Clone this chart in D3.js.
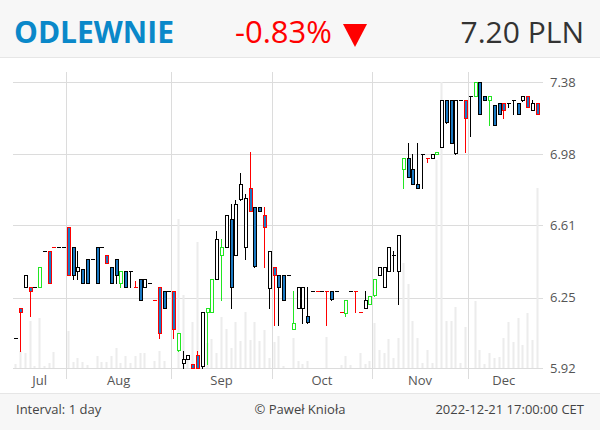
<!DOCTYPE html>
<html>
<head>
<meta charset="utf-8">
<script src="https://cdn.jsdelivr.net/npm/d3@7.9.0/dist/d3.min.js"></script>
<style>
  html, body { margin: 0; padding: 0; background: #fff; }
  svg { display: block; font-family: "Open Sans", sans-serif; }
</style>
</head>
<body>
<svg id="chart" width="600" height="430"></svg>
<script>
// ---- data ----
const months = ["Jul", "Aug", "Sep", "Oct", "Nov", "Dec"];
const monthStart = [0, 11, 33, 54, 75, 95];   // index of first session of each month
const yTicks = [5.92, 6.25, 6.61, 6.98, 7.38];

const open = [6.06,6.20,6.30,6.30,6.30,6.30,6.48,6.48,6.50,6.50,6.50,6.60,6.50,6.38,6.39,6.44,6.44,6.50,6.50,6.46,
  6.40,6.44,6.32,6.38,6.38,6.30,6.34,6.30,6.32,6.24,6.30,6.28,6.28,6.28,6.00,5.94,5.96,5.94,5.98,5.93,
  6.18,6.18,6.34,6.46,6.50,6.64,6.46,6.74,6.50,6.80,6.70,6.70,6.66,6.30,6.40,6.36,6.36,6.36,6.10,6.20,
  6.20,6.16,6.28,6.28,6.28,6.28,6.28,6.28,6.18,6.18,6.28,6.28,6.18,6.20,6.22,6.26,6.36,6.30,6.38,6.46,
  6.38,6.90,6.96,6.90,6.82,6.98,6.96,6.96,6.98,7.02,7.28,7.28,6.99,7.28,7.28,7.30,7.30,7.38,7.30,7.28,
  7.25,7.26,7.26,7.26,7.28,7.26,7.28,7.30,7.22,7.26];
const high = [6.06,6.20,6.36,6.30,6.30,6.40,6.48,6.48,6.50,6.50,6.50,6.60,6.50,6.48,6.39,6.44,6.44,6.50,6.50,6.46,
  6.40,6.44,6.38,6.38,6.38,6.33,6.34,6.34,6.32,6.24,6.30,6.28,6.28,6.28,6.08,6.00,5.98,5.94,6.00,6.18,
  6.20,6.34,6.58,6.54,6.66,6.72,6.74,6.88,6.77,6.99,6.70,6.70,6.70,6.48,6.40,6.36,6.36,6.36,6.28,6.30,
  6.30,6.30,6.28,6.28,6.28,6.28,6.28,6.28,6.18,6.24,6.28,6.28,6.18,6.28,6.26,6.34,6.40,6.40,6.50,6.48,
  6.56,6.96,7.04,6.98,7.04,6.98,6.96,6.98,6.99,7.28,7.28,7.28,7.28,7.28,7.28,7.30,7.38,7.38,7.30,7.30,
  7.25,7.26,7.26,7.26,7.28,7.26,7.30,7.30,7.28,7.26];
const low = [6.06,6.00,6.30,6.16,6.30,6.30,6.48,6.32,6.50,6.50,6.50,6.36,6.34,6.34,6.32,6.32,6.44,6.32,6.50,6.42,
  6.32,6.32,6.30,6.30,6.30,6.30,6.24,6.30,6.32,6.24,6.06,6.20,6.28,6.06,6.00,5.92,5.96,5.92,5.92,5.92,
  5.94,6.18,6.34,6.24,6.50,6.20,6.46,6.74,6.44,6.68,6.40,6.68,6.40,6.20,6.12,6.12,6.24,6.36,6.10,6.20,
  6.13,6.13,6.28,6.28,6.28,6.12,6.24,6.28,6.18,6.16,6.28,6.18,6.18,6.20,6.22,6.26,6.36,6.30,6.38,6.38,
  6.22,6.80,6.86,6.82,6.80,6.80,6.94,6.96,6.98,7.02,7.15,7.04,6.98,7.28,6.99,7.08,7.30,7.20,7.28,7.14,
  7.14,7.20,7.18,7.24,7.20,7.20,7.27,7.24,7.22,7.20];
const close = [6.06,6.18,6.36,6.28,6.30,6.40,6.48,6.32,6.50,6.50,6.50,6.36,6.36,6.40,6.32,6.32,6.44,6.32,6.50,6.42,
  6.32,6.36,6.38,6.30,6.38,6.30,6.24,6.34,6.32,6.24,6.08,6.20,6.28,6.10,6.08,5.96,5.98,5.92,5.92,6.18,
  6.20,6.34,6.54,6.50,6.66,6.30,6.72,6.82,6.75,6.68,6.40,6.68,6.60,6.48,6.36,6.30,6.24,6.36,6.13,6.30,
  6.30,6.13,6.28,6.28,6.28,6.28,6.24,6.28,6.18,6.24,6.28,6.28,6.18,6.24,6.26,6.34,6.40,6.40,6.50,6.46,
  6.56,6.96,6.86,6.82,6.80,6.98,6.96,6.98,6.99,7.28,7.16,7.04,7.28,7.28,7.18,7.30,7.38,7.20,7.28,7.30,
  7.14,7.20,7.22,7.26,7.28,7.20,7.30,7.24,7.26,7.20];
// outline / wick colour of each session: k = black, r = red, g = green
const tone = ("krkrkgkrrkkrkkkkkkkr" + "kkgkkrkkkrrkkrgkkrrk" + "ggkgkkkkkrkkrkrkkkgk" +
  "kkkrkrkkrgkrrkggkkkk" + "kgkkkkrkgkkkkkrkgkkg" + "kkrkkkkrkr").split("");
const volume = [4,17,15,47,2,50,2,5,16,0,0,37,6,10,6,3,0,12,6,6,
  12,20,5,12,5,12,15,15,0,7,17,7,0,0,149,73,10,46,126,20,
  25,29,15,51,39,20,46,27,56,28,46,27,38,10,26,32,2,0,30,7,
  4,7,0,0,0,31,0,0,3,12,3,0,15,4,7,45,18,15,29,10,
  30,105,84,47,30,5,18,5,208,286,47,47,61,5,41,0,67,18,4,15,
  10,11,30,46,26,50,23,55,28,180];

const candles = open.map((o, i) => ({
  i, open: o, high: high[i], low: low[i], close: close[i], tone: tone[i], volume: volume[i]
}));

// ---- layout ----
const W = 600, H = 430;
const plot = { left: 13, right: 543, top: 72, bottom: 368 };
const toneColor = { k: "#000", r: "#ff0000", g: "#22e622" };
const bodyFill = "#1a78c2";

const svg = d3.select("#chart");

// header & footer bands
svg.append("rect").attr("x", 0).attr("y", 0).attr("width", W).attr("height", 58).attr("fill", "#f7f7f7");
svg.append("line").attr("x1", 0).attr("x2", W).attr("y1", 57.5).attr("y2", 57.5).attr("stroke", "#e6e6e6");
svg.append("rect").attr("x", 0).attr("y", 394).attr("width", W).attr("height", 36).attr("fill", "#f7f7f7");
svg.append("line").attr("x1", 0).attr("x2", W).attr("y1", 393.5).attr("y2", 393.5).attr("stroke", "#e6e6e6");

// scales
const x = d3.scaleBand().domain(d3.range(candles.length)).range([13.3, 539.7]);
const cx = i => Math.floor(x(i) + x.bandwidth() / 2);
const y = d3.scaleLog().domain([5.92, 7.38]).range([plot.bottom, 82]);
const v = d3.scaleLinear().domain([0, 286]).range([plot.bottom, 82]);
const snap = val => Math.round(val) + 0.5;

// grid
const grid = svg.append("g").attr("stroke", "#dcdcdc").attr("stroke-width", 1);
grid.selectAll("line.h").data(yTicks).join("line")
  .attr("class", "h")
  .attr("x1", plot.left).attr("x2", plot.right)
  .attr("y1", d => snap(y(d))).attr("y2", d => snap(y(d)));
grid.selectAll("line.v").data(monthStart.slice(1)).join("line")
  .attr("class", "v")
  .attr("x1", d => snap(x(d))).attr("x2", d => snap(x(d)))
  .attr("y1", plot.top).attr("y2", 379);

// volume bars
svg.append("g").selectAll("rect").data(candles.filter(d => d.volume > 0)).join("rect")
  .attr("x", d => cx(d.i) - 0.5)
  .attr("width", 2)
  .attr("y", d => v(d.volume))
  .attr("height", d => plot.bottom - v(d.volume))
  .attr("fill", "#ececec");

// candles: wick on pixel column cx, body 4px wide (cx-1 .. cx+2)
const c = svg.append("g").selectAll("g").data(candles).join("g")
  .attr("transform", d => `translate(${cx(d.i) + 0.5},0)`);

c.append("line")
  .attr("y1", d => Math.round(y(d.high))).attr("y2", d => Math.round(y(d.low)) + 1)
  .attr("stroke", d => toneColor[d.tone]).attr("stroke-width", 1);

c.filter(d => d.open !== d.close).append("rect")
  .attr("x", -1).attr("width", 3)
  .attr("y", d => snap(y(Math.max(d.open, d.close))))
  .attr("height", d => Math.max(1, Math.round(Math.abs(y(d.open) - y(d.close)))))
  .attr("fill", d => d.close < d.open ? bodyFill : "#fff")
  .attr("stroke", d => toneColor[d.tone]).attr("stroke-width", 1);

c.filter(d => d.open === d.close).append("line")
  .attr("x1", -1.5).attr("x2", 2.5)
  .attr("y1", d => snap(y(d.close))).attr("y2", d => snap(y(d.close)))
  .attr("stroke", d => toneColor[d.tone]).attr("stroke-width", 1);

// axis labels
svg.append("g").selectAll("text").data(yTicks).join("text")
  .attr("x", 550).attr("y", d => y(d)).attr("dy", "0.35em")
  .attr("font-size", 13).attr("fill", "#555")
  .text(d => d3.format(".2f")(d));

const monthEnd = monthStart.slice(1).map(i => x(i)).concat([539.7]);
svg.append("g").selectAll("text").data(months).join("text")
  .attr("x", (d, k) => (x(monthStart[k]) + monthEnd[k]) / 2)
  .attr("y", 385)
  .attr("text-anchor", "middle")
  .attr("font-size", 13).attr("fill", "#555")
  .text(d => d);

// header
svg.append("text").attr("x", 14).attr("y", 43)
  .attr("font-size", 30).attr("font-weight", "bold").attr("fill", "#0a88c9")
  .text("ODLEWNIE");
svg.append("text").attr("x", 235).attr("y", 43)
  .attr("font-size", 31).attr("fill", "#ff0000")
  .text("-0.83%");
svg.append("path").attr("d", "M343,24L367,24L355,47Z").attr("fill", "#ff0000");
svg.append("text").attr("x", 584).attr("y", 43).attr("text-anchor", "end")
  .attr("font-size", 30).attr("fill", "#333")
  .text("7.20 PLN");

// footer
const foot = svg.append("g").attr("font-size", 13).attr("fill", "#444");
foot.append("text").attr("x", 16).attr("y", 414).text("Interval: 1 day");
foot.append("text").attr("x", 300).attr("y", 414).attr("text-anchor", "middle").text("© Paweł Knioła");
foot.append("text").attr("x", 584).attr("y", 414).attr("text-anchor", "end").text("2022-12-21 17:00:00 CET");
</script>
</body>
</html>
